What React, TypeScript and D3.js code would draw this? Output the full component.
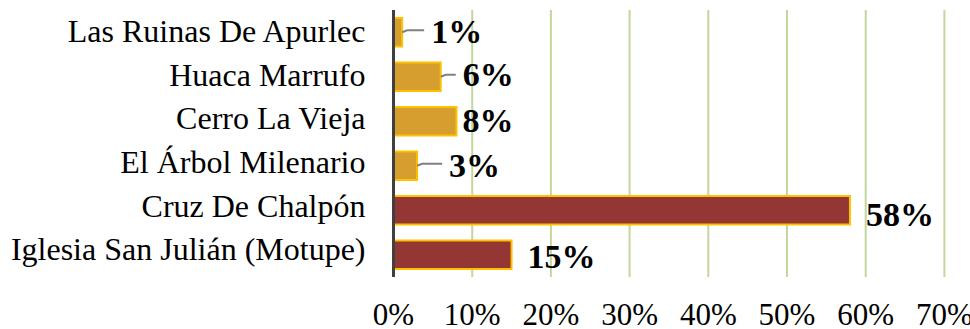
import React from "react";
import * as d3 from "d3";

const categories = [
  "Las Ruinas De Apurlec",
  "Huaca Marrufo",
  "Cerro La Vieja",
  "El Árbol Milenario",
  "Cruz De Chalpón",
  "Iglesia San Julián (Motupe)",
];
const values = [1.1, 6, 8, 3, 58, 15];
const valueLabels = ["1%", "6%", "8%", "3%", "58%", "15%"];
const groups = ["gold", "gold", "gold", "gold", "red", "red"];
const ticks = [0, 10, 20, 30, 40, 50, 60, 70];

const W = 970;
const H = 329;
const margin = { left: 393.5, right: 26, top: 10, bottom: 52 };
const labelGap = [29, 22, 6, 32, 16, 16];
const labelDy = [0, -2, 0, 0, 5, 2];
const leader = [true, true, false, true, false, false];

export default function App() {
  const x = d3.scaleLinear().domain([0, 70]).range([margin.left, margin.left + 78.7 * 7]);
  const y = d3
    .scaleBand<string>()
    .domain(categories)
    .range([margin.top, H - margin.bottom])
    .paddingInner(0.36)
    .paddingOuter(0.18);
  const font = "'Liberation Serif', 'Times New Roman', serif";
  return (
    <svg
      width={W}
      height={H}
      style={{ position: "absolute", left: 0, top: 0, background: "#fff" }}
    >
      {ticks.map((t) =>
        t === 0 ? null : (
          <line
            key={"g" + t}
            x1={x(t)}
            x2={x(t)}
            y1={margin.top}
            y2={H - margin.bottom}
            stroke="#C3D69B"
            strokeWidth={2}
          />
        )
      )}
      {categories.map((c, i) => {
        const y0 = y(c)!;
        const bw = y.bandwidth();
        const xe = x(values[i]);
        const cy = y0 + bw / 2;
        return (
          <g key={c}>
            <rect
              x={x(0)}
              y={y0}
              width={xe - x(0)}
              height={bw}
              fill={groups[i] === "gold" ? "#D69E2E" : "#943634"}
              stroke="#FFC000"
              strokeWidth={2}
            />
            <text
              x={margin.left - 28}
              y={cy - 1 - i * 0.8}
              dy="0.33em"
              textAnchor="end"
              fontFamily={font}
              fontSize={32}
              fill="#000"
            >
              {c}
            </text>
            {leader[i] && (
              <polyline
                points={`${xe},${cy} ${xe + 5},${cy - 2} ${xe + labelGap[i] - 7},${cy - 2}`}
                fill="none"
                stroke="#808080"
                strokeWidth={2}
              />
            )}
            <text
              x={xe + labelGap[i]}
              y={cy + labelDy[i]}
              dy="0.33em"
              fontFamily={font}
              fontWeight="bold"
              fontSize={34}
              fill="#000"
            >
              {valueLabels[i]}
            </text>
          </g>
        );
      })}
      <line
        x1={x(0)}
        x2={x(0)}
        y1={margin.top}
        y2={H - margin.bottom}
        stroke="#404040"
        strokeWidth={3}
      />
      {ticks.map((t) => (
        <text
          key={"t" + t}
          x={x(t)}
          y={325}
          textAnchor="middle"
          fontFamily={font}
          fontSize={31}
          fill="#000"
        >
          {t + "%"}
        </text>
      ))}
    </svg>
  );
}
